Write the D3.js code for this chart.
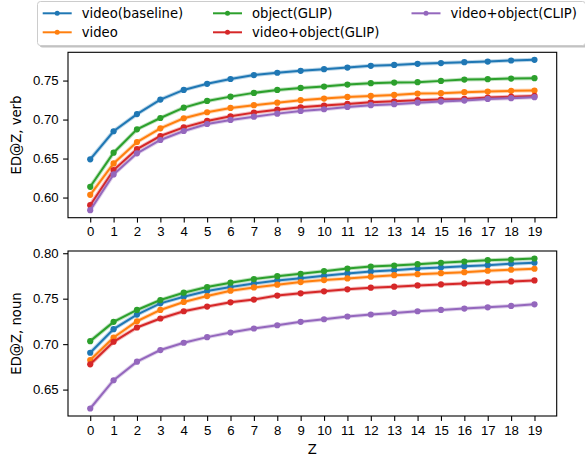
<!DOCTYPE html>
<html>
<head>
<meta charset="utf-8">
<script src="https://cdn.jsdelivr.net/npm/d3@7"></script>
<style>
  body { margin: 0; background: #fff; }
  svg { display: block; font-family: "DejaVu Sans", sans-serif; }
  .tick text { font-size: 13.2px; fill: #000; }
  .tick line { stroke: #000; stroke-width: 1.1; }
  .domain { display: none; }
</style>
</head>
<body>
<svg width="585" height="456"></svg>
<script>
const WIDTH = 585;
const HEIGHT = 456;

// data
const Z = d3.range(0, 20);
const seriesNames = ["video(baseline)", "video", "object(GLIP)", "video+object(GLIP)", "video+object(CLIP)"];
const colors = ["#1f77b4", "#ff7f0e", "#2ca02c", "#d62728", "#9467bd"];

const verbBaseline = [0.649, 0.685, 0.707, 0.7256, 0.738, 0.7458, 0.752, 0.757, 0.760, 0.7625, 0.7646, 0.7667, 0.7689, 0.770, 0.7715, 0.7724, 0.7736, 0.7744, 0.7757, 0.7766];
const verbVideo = [0.6035, 0.6438, 0.6712, 0.6888, 0.7017, 0.7094, 0.7149, 0.7184, 0.7217, 0.7248, 0.7269, 0.729, 0.7303, 0.7316, 0.7333, 0.7338, 0.7351, 0.7359, 0.7368, 0.7372];
const verbObjGlip = [0.6138, 0.6575, 0.6875, 0.702, 0.7153, 0.7239, 0.7294, 0.7342, 0.738, 0.7406, 0.7423, 0.7449, 0.7466, 0.7474, 0.7479, 0.7496, 0.7513, 0.7518, 0.7526, 0.7531];
const verbVidObjGlip = [0.5902, 0.6352, 0.6622, 0.6789, 0.690, 0.6982, 0.7042, 0.7089, 0.7127, 0.7158, 0.7179, 0.7201, 0.7222, 0.7235, 0.7248, 0.7256, 0.7265, 0.7282, 0.7294, 0.7303];
const verbVidObjClip = [0.5838, 0.6297, 0.6567, 0.6738, 0.6853, 0.6943, 0.6995, 0.7037, 0.7076, 0.711, 0.7132, 0.7162, 0.7184, 0.7197, 0.7217, 0.723, 0.7243, 0.7265, 0.7274, 0.7287];

const nounBaseline = [0.6905, 0.7165, 0.7325, 0.7449, 0.7522, 0.7584, 0.7628, 0.7668, 0.7701, 0.7726, 0.7752, 0.7778, 0.780, 0.7814, 0.7832, 0.7843, 0.7858, 0.7869, 0.7884, 0.7895];
const nounVideo = [0.6825, 0.7073, 0.7252, 0.7376, 0.7464, 0.7529, 0.7588, 0.7624, 0.7654, 0.7683, 0.7705, 0.7723, 0.7742, 0.7759, 0.777, 0.7781, 0.7792, 0.7807, 0.7818, 0.7829];
const nounObjGlip = [0.7033, 0.7245, 0.7376, 0.7485, 0.7566, 0.7628, 0.7676, 0.7716, 0.7748, 0.7774, 0.7803, 0.7832, 0.7854, 0.7865, 0.788, 0.7895, 0.7909, 0.7924, 0.7931, 0.7942];
const nounVidObjGlip = [0.6778, 0.7026, 0.7183, 0.7282, 0.7362, 0.7413, 0.746, 0.749, 0.7534, 0.7559, 0.7581, 0.7603, 0.7621, 0.7632, 0.7646, 0.7657, 0.7668, 0.7679, 0.769, 0.7701];
const nounVidObjClip = [0.6292, 0.6603, 0.6807, 0.6935, 0.7015, 0.7077, 0.7128, 0.7172, 0.7208, 0.7245, 0.7274, 0.7304, 0.7326, 0.7343, 0.7362, 0.7376, 0.7391, 0.7405, 0.742, 0.7438];

const verbTicks = [0.60, 0.65, 0.70, 0.75];
const nounTicks = [0.65, 0.70, 0.75, 0.80];

const verbSeries = [verbBaseline, verbVideo, verbObjGlip, verbVidObjGlip, verbVidObjClip];
const nounSeries = [nounBaseline, nounVideo, nounObjGlip, nounVidObjGlip, nounVidObjClip];

const svg = d3.select("svg");

const LEFT = 68;
const RIGHT = 556.7;

const x = d3.scaleLinear()
    .domain([-0.95, 19.95])
    .range([LEFT, RIGHT]);

function drawPanel(series, ticks, top, bottom, label) {
    let all = series.flat();
    let lo = d3.min(all), hi = d3.max(all);
    let pad = (hi - lo) * 0.05;
    let y = d3.scaleLinear()
        .domain([lo - pad, hi + pad])
        .range([bottom, top]);

    let g = svg.append("g");

    let line = d3.line()
        .x((d, i) => x(Z[i]))
        .y(d => y(d));

    series.forEach((s, k) => {
        // faint halo behind each line
        g.append("path")
            .attr("d", line(s))
            .attr("fill", "none")
            .attr("stroke", colors[k])
            .attr("stroke-opacity", 0.3)
            .attr("stroke-width", 4);
        g.append("path")
            .attr("d", line(s))
            .attr("fill", "none")
            .attr("stroke", colors[k])
            .attr("stroke-width", 2);
        g.selectAll(null)
            .data(s)
            .enter().append("circle")
            .attr("cx", (d, i) => x(Z[i]))
            .attr("cy", d => y(d))
            .attr("r", 3.1)
            .attr("fill", colors[k]);
    });

    g.append("rect")
        .attr("x", LEFT)
        .attr("y", top)
        .attr("width", RIGHT - LEFT)
        .attr("height", bottom - top)
        .attr("fill", "none")
        .attr("stroke", "#000")
        .attr("stroke-width", 1.1);

    svg.append("g")
        .attr("transform", `translate(0,${bottom})`)
        .call(d3.axisBottom(x).tickValues(Z).tickSize(4.9).tickPadding(4.5).tickFormat(d3.format("d")));

    svg.append("g")
        .attr("transform", `translate(${LEFT},0)`)
        .call(d3.axisLeft(y).tickValues(ticks).tickSize(4.9).tickPadding(4.5).tickFormat(d3.format(".2f")));

    svg.append("text")
        .attr("transform", `translate(21,${(top + bottom) / 2}) rotate(-90)`)
        .attr("text-anchor", "middle")
        .style("font-size", "13.2px")
        .text(label);
}

drawPanel(verbSeries, verbTicks, 52.3, 217.7, "ED@Z, verb");
drawPanel(nounSeries, nounTicks, 251, 416, "ED@Z, noun");

svg.append("text")
    .attr("x", (LEFT + RIGHT) / 2)
    .attr("y", 453.5)
    .attr("text-anchor", "middle")
    .style("font-size", "13.2px")
    .text("Z");

// legend
const legend = svg.append("g");
legend.append("rect")
    .attr("x", 39.5).attr("y", 3.5)
    .attr("width", 548).attr("height", 44)
    .attr("rx", 3)
    .attr("fill", "#999")
    .attr("opacity", 0.6);
legend.append("rect")
    .attr("x", 37.5).attr("y", 1.5)
    .attr("width", 548).attr("height", 44)
    .attr("rx", 3)
    .attr("fill", "#fff")
    .attr("stroke", "#ccc");

const colX = [42.7, 213, 411.5];
const rowY = [13.3, 32.3];
seriesNames.forEach((name, k) => {
    let cx = colX[Math.floor(k / 2)];
    let cy = rowY[k % 2];
    legend.append("line")
        .attr("x1", cx).attr("x2", cx + 29)
        .attr("y1", cy).attr("y2", cy)
        .attr("stroke", colors[k])
        .attr("stroke-width", 2);
    legend.append("circle")
        .attr("cx", cx + 14.5).attr("cy", cy)
        .attr("r", 2.5)
        .attr("fill", colors[k]);
    legend.append("text")
        .attr("x", cx + 39)
        .attr("y", cy)
        .attr("dy", "0.36em")
        .style("font-size", "13.2px")
        .text(name);
});
</script>
</body>
</html>
